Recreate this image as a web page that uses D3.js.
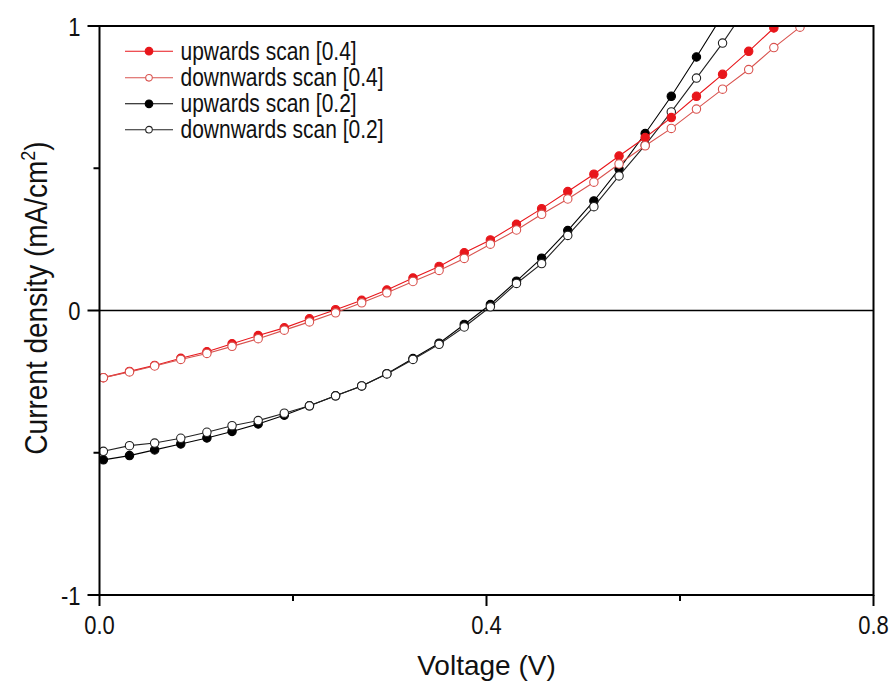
<!DOCTYPE html>
<html>
<head>
<meta charset="utf-8">
<script src="https://cdn.jsdelivr.net/npm/d3@7"></script>
<style>
  body { margin: 0; background: #fff; }
  svg { display: block; font-family: "Liberation Sans", Arial, sans-serif; }
  .frame { fill: none; stroke: #000; stroke-width: 2; }
  .zero { stroke: #000; stroke-width: 1.6; }
  .tick-line { stroke: #000; stroke-width: 2; }
  .tick-label { font-size: 22px; fill: #111; }
  .axis-title { font-size: 28px; fill: #111; }
  .legend-label { font-size: 21px; fill: #111; }
</style>
</head>
<body>
<svg id="chart" width="891" height="683"></svg>
<script>
// voltage steps (V)
var voltage = [0.004, 0.031, 0.057, 0.084, 0.111, 0.137, 0.164, 0.191, 0.217, 0.244,
               0.271, 0.297, 0.324, 0.351, 0.377, 0.404, 0.431, 0.457, 0.484, 0.511,
               0.537, 0.564, 0.591, 0.617, 0.644, 0.671, 0.697, 0.724, 0.751];

// current density (mA/cm2) per scan
var upScan04 = [-0.236, -0.214, -0.193, -0.168, -0.145, -0.117, -0.088, -0.061, -0.029, 0.003,
                0.036, 0.072, 0.114, 0.155, 0.203, 0.248, 0.303, 0.358, 0.418, 0.479,
                0.543, 0.608, 0.678, 0.753, 0.830, 0.911, 0.993, 1.078];
var downScan04 = [-0.236, -0.216, -0.195, -0.172, -0.151, -0.126, -0.099, -0.069, -0.040, -0.008,
                  0.027, 0.062, 0.102, 0.141, 0.183, 0.233, 0.283, 0.338, 0.392, 0.451,
                  0.515, 0.579, 0.640, 0.708, 0.778, 0.847, 0.924, 0.996, 1.070];
var upScan02 = [-0.525, -0.510, -0.490, -0.469, -0.448, -0.425, -0.399, -0.368, -0.335, -0.300,
                -0.265, -0.222, -0.169, -0.115, -0.049, 0.021, 0.103, 0.184, 0.281, 0.385,
                0.497, 0.622, 0.753, 0.891, 1.038];
var downScan02 = [-0.495, -0.475, -0.466, -0.449, -0.428, -0.405, -0.387, -0.361, -0.335, -0.300,
                  -0.265, -0.223, -0.172, -0.119, -0.058, 0.013, 0.095, 0.165, 0.264, 0.365,
                  0.473, 0.581, 0.698, 0.817, 0.940, 1.076];

var seriesNames = ["upwards scan [0.4]", "downwards scan [0.4]", "upwards scan [0.2]", "downwards scan [0.2]"];
var seriesColors = ["#e8161b", "#d9534f", "#000000", "#222222"];
var seriesFilled = [true, false, true, false];

var xTickValues = [0, 0.4, 0.8];
var xTickLabels = ["0.0", "0.4", "0.8"];
var xMinorTicks = [0.2, 0.6];
var yTickValues = [-1, 0, 1];
var yTickLabels = ["-1", "0", "1"];
var yMinorTicks = [-0.5, 0.5];

(function() {
    var svg = d3.select("#chart");
    var left = 99.5, right = 873.5, top = 26, bottom = 595;
    var stretch = 1.2; // the source picture is a bit taller than wide

    var x = d3.scaleLinear().domain([0, 0.8]).range([left, right]);
    var y = d3.scaleLinear().domain([-1, 1]).range([bottom, top]);

    var allSeries = [upScan04, downScan04, upScan02, downScan02];

    svg.append("defs").append("clipPath").attr("id", "plotclip")
        .append("rect")
        .attr("x", left).attr("y", top)
        .attr("width", right - left).attr("height", bottom - top);

    // zero line
    svg.append("line").attr("class", "zero")
        .attr("x1", left).attr("x2", right)
        .attr("y1", y(0)).attr("y2", y(0));

    var line = d3.line()
        .x(function(d) { return x(d[0]); })
        .y(function(d) { return y(d[1]); });

    var plot = svg.append("g").attr("clip-path", "url(#plotclip)");

    // draw black curves first, red on top
    [2, 3, 0, 1].forEach(function(i) {
        var pts = allSeries[i].map(function(v, k) { return [voltage[k], v]; });
        plot.append("path")
            .attr("d", line(pts))
            .attr("fill", "none")
            .attr("stroke", seriesColors[i])
            .attr("stroke-width", 1.1);
        plot.selectAll(".pt" + i)
            .data(pts.filter(function(d) { return d[1] <= 1.0; }))
            .enter()
            .append("circle")
            .attr("cx", function(d) { return x(d[0]); })
            .attr("cy", function(d) { return y(d[1]); })
            .attr("r", 4.2)
            .attr("fill", seriesFilled[i] ? seriesColors[i] : "#fff")
            .attr("stroke", seriesColors[i])
            .attr("stroke-width", 1.1);
    });

    // frame
    svg.append("rect").attr("class", "frame")
        .attr("x", left).attr("y", top)
        .attr("width", right - left).attr("height", bottom - top);

    // x ticks
    svg.selectAll(".xmajor")
        .data(xTickValues)
        .enter()
        .append("line")
        .attr("class", "tick-line")
        .attr("x1", function(d) { return x(d); })
        .attr("x2", function(d) { return x(d); })
        .attr("y1", bottom).attr("y2", bottom + 11);
    svg.selectAll(".xminor")
        .data(xMinorTicks)
        .enter()
        .append("line")
        .attr("class", "tick-line")
        .attr("x1", function(d) { return x(d); })
        .attr("x2", function(d) { return x(d); })
        .attr("y1", bottom).attr("y2", bottom + 6);
    svg.selectAll(".xlabel")
        .data(xTickValues)
        .enter()
        .append("text")
        .attr("class", "tick-label")
        .attr("text-anchor", "middle")
        .attr("transform", function(d) {
            return "translate(" + x(d) + ",634) scale(1," + stretch + ")";
        })
        .text(function(d, i) { return xTickLabels[i]; });

    // y ticks
    svg.selectAll(".ymajor")
        .data(yTickValues)
        .enter()
        .append("line")
        .attr("class", "tick-line")
        .attr("x1", left - 12).attr("x2", left)
        .attr("y1", function(d) { return y(d); })
        .attr("y2", function(d) { return y(d); });
    svg.selectAll(".yminor")
        .data(yMinorTicks)
        .enter()
        .append("line")
        .attr("class", "tick-line")
        .attr("x1", left - 6).attr("x2", left)
        .attr("y1", function(d) { return y(d); })
        .attr("y2", function(d) { return y(d); });
    svg.selectAll(".ylabel")
        .data(yTickValues)
        .enter()
        .append("text")
        .attr("class", "tick-label")
        .attr("text-anchor", "end")
        .attr("transform", function(d) {
            return "translate(" + (left - 19) + "," + (y(d) + 9.5) + ") scale(1," + stretch + ")";
        })
        .text(function(d, i) { return yTickLabels[i]; });

    // axis titles
    svg.append("text").attr("class", "axis-title")
        .attr("text-anchor", "middle")
        .attr("x", x(0.4)).attr("y", 675)
        .text("Voltage (V)");

    var yt = svg.append("text").attr("class", "axis-title")
        .attr("text-anchor", "middle")
        .attr("transform", "translate(47,298) rotate(-90) scale(1,1.1)");
    yt.append("tspan").text("Current density (mA/cm");
    yt.append("tspan").attr("dy", -11).style("font-size", "18px").text("2");
    yt.append("tspan").attr("dy", 11).text(")");

    // legend
    var legendRows = [51.2, 77.8, 103.8, 129.7];
    var legend = svg.append("g");
    seriesNames.forEach(function(name, i) {
        var g = legend.append("g").attr("transform", "translate(0," + legendRows[i] + ")");
        g.append("line")
            .attr("x1", 125).attr("x2", 173)
            .attr("y1", 0).attr("y2", 0)
            .attr("stroke", seriesColors[i])
            .attr("stroke-width", 1.1);
        g.append("circle")
            .attr("cx", 149).attr("cy", 0).attr("r", seriesFilled[i] ? 3.8 : 3.3)
            .attr("fill", seriesFilled[i] ? seriesColors[i] : "#fff")
            .attr("stroke", seriesColors[i])
            .attr("stroke-width", 1.1);
        g.append("text").attr("class", "legend-label")
            .attr("transform", "translate(180.5,8.5) scale(1," + stretch + ")")
            .text(name);
    });
})();
</script>
</body>
</html>
